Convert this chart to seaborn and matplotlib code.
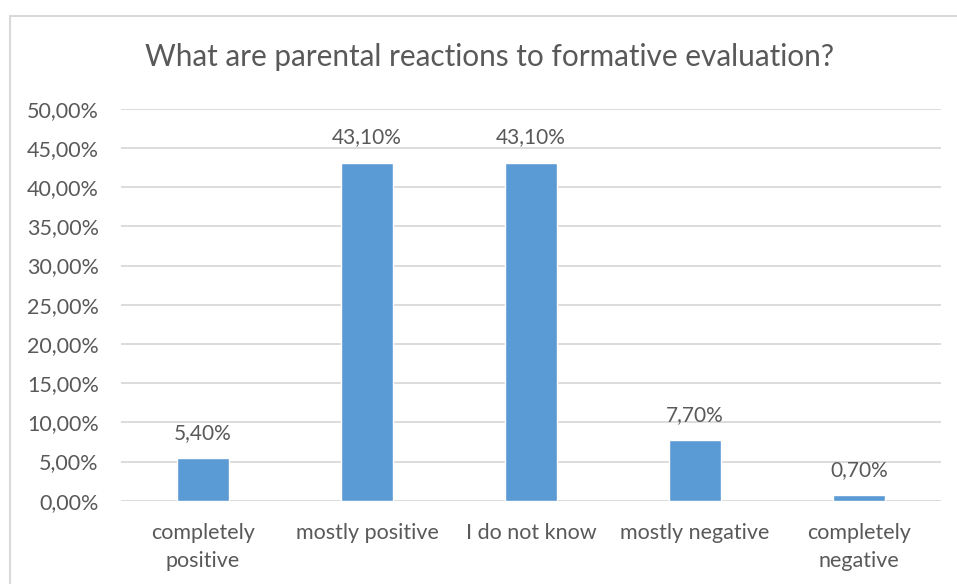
import matplotlib
matplotlib.use("Agg")
import matplotlib.pyplot as plt
import seaborn as sns
import pandas as pd
from matplotlib.lines import Line2D

categories = ["completely\npositive", "mostly positive", "I do not know", "mostly negative", "completely\nnegative"]
values = [5.4, 43.1, 43.1, 7.7, 0.7]
value_labels = ["5,40%", "43,10%", "43,10%", "7,70%", "0,70%"]
yticks = [0, 5, 10, 15, 20, 25, 30, 35, 40, 45, 50]
ytick_labels = [f"{v:.2f}%".replace(".", ",") for v in yticks]
title = "What are parental reactions to formative evaluation?"

sns.set_theme(style="white")
plt.rcParams['font.family'] = ['Lato', 'DejaVu Sans']

TEXT = "#595959"
GRID = "#D9D9D9"
BAR = "#5B9BD5"

fig = plt.figure(figsize=(9.57, 5.84), dpi=100)
ax = fig.add_axes([121/957, 1 - 500.7/584, 820/957, 392/584])

df = pd.DataFrame({"cat": categories, "val": values})
sns.barplot(data=df, x="cat", y="val", color=BAR, width=0.317, ax=ax, saturation=1)

ax.set_xlim(-0.5, 4.5)
ax.set_ylim(0, 50)
ax.set_yticks(yticks)
ax.set_yticklabels(ytick_labels)
ax.set_xlabel("")
ax.set_ylabel("")
for s in ax.spines.values():
    s.set_visible(False)
ax.set_axisbelow(True)
ax.yaxis.grid(True, color=GRID, linewidth=1.3)
ax.xaxis.grid(False)
ax.tick_params(axis="y", length=0, pad=16, labelsize=15.5, labelcolor=TEXT)
ax.tick_params(axis="x", length=0, pad=16, labelsize=15.5, labelcolor=TEXT)
for t in ax.get_xticklabels():
    t.set_linespacing(1.5)

ax.bar_label(ax.containers[0], labels=value_labels, padding=11, fontsize=15, color=TEXT)

fig.text(490/957, 1 - 57/584, title, ha="center", va="center", fontsize=21.4, color=TEXT)

fig.add_artist(Line2D([9.5/957, 1], [1 - 15.5/584, 1 - 15.5/584], transform=fig.transFigure, color=GRID, linewidth=1.5))
fig.add_artist(Line2D([9.5/957, 9.5/957], [0, 1 - 15.5/584], transform=fig.transFigure, color=GRID, linewidth=1.5))

fig.savefig("out.png", dpi=100, facecolor="white")
